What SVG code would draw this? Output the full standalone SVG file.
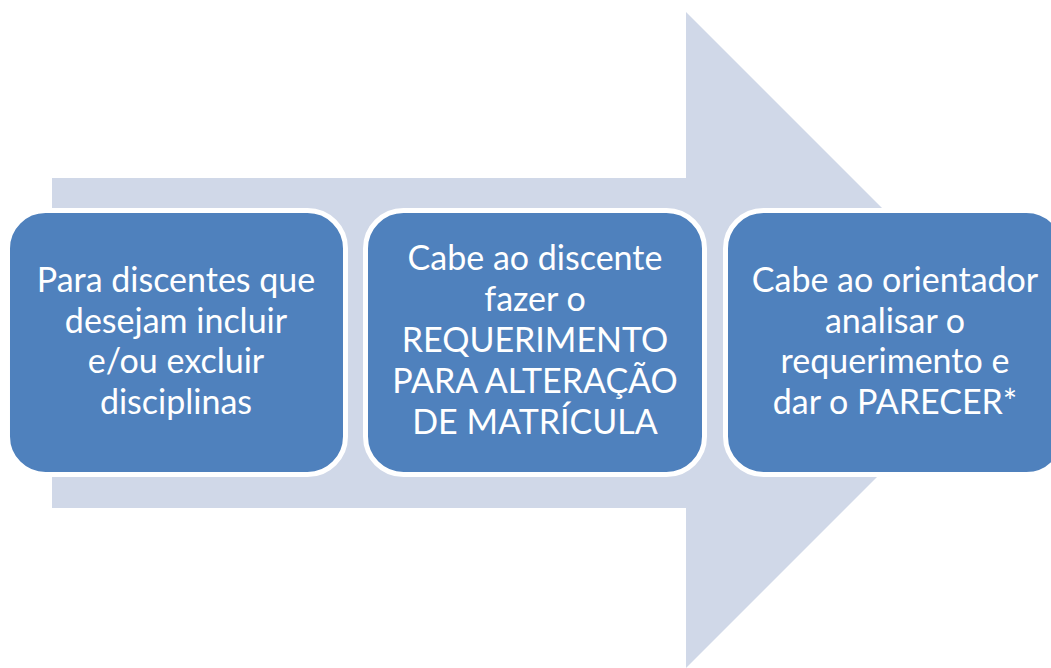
<svg xmlns="http://www.w3.org/2000/svg" width="1051" height="668" viewBox="0 0 1051 668">
<style>
.box{fill:#4F81BD;stroke:#FFFFFF;stroke-width:5}
.t{font-family:Lato,"Open Sans","Liberation Sans",sans-serif;font-size:34px;fill:#FFFFFF;text-anchor:middle}
</style>
<rect width="1051" height="668" fill="#FFFFFF"/>
<g id="arrow">
<polygon points="52,178 686,178 686,12 1014,340 686,668 686,508 52,508" fill="#D0D8E8"/>
</g>
<g id="connectors"></g>
<g id="node1">
<rect class="box" x="7.5" y="210.5" width="338" height="264" rx="38"/>
<text class="t"><tspan x="176" y="292">Para discentes que</tspan><tspan x="176" y="332.5">desejam incluir</tspan><tspan x="176" y="373">e/ou excluir</tspan><tspan x="176" y="413.5">disciplinas</tspan></text>
</g>
<g id="node2">
<rect class="box" x="365.5" y="210.5" width="339" height="264" rx="38"/>
<text class="t"><tspan x="535" y="270">Cabe ao discente</tspan><tspan x="535" y="311">fazer o</tspan><tspan x="535" y="352">REQUERIMENTO</tspan><tspan x="535" y="393">PARA ALTERAÇÃO</tspan><tspan x="535" y="433.5">DE MATRÍCULA</tspan></text>
</g>
<g id="node3">
<rect class="box" x="725.5" y="210.5" width="339" height="264" rx="38"/>
<text class="t"><tspan x="895" y="292">Cabe ao orientador</tspan><tspan x="895" y="332.5">analisar o</tspan><tspan x="895" y="373">requerimento e</tspan><tspan x="895" y="413.5">dar o PARECER*</tspan></text>
</g>
</svg>
